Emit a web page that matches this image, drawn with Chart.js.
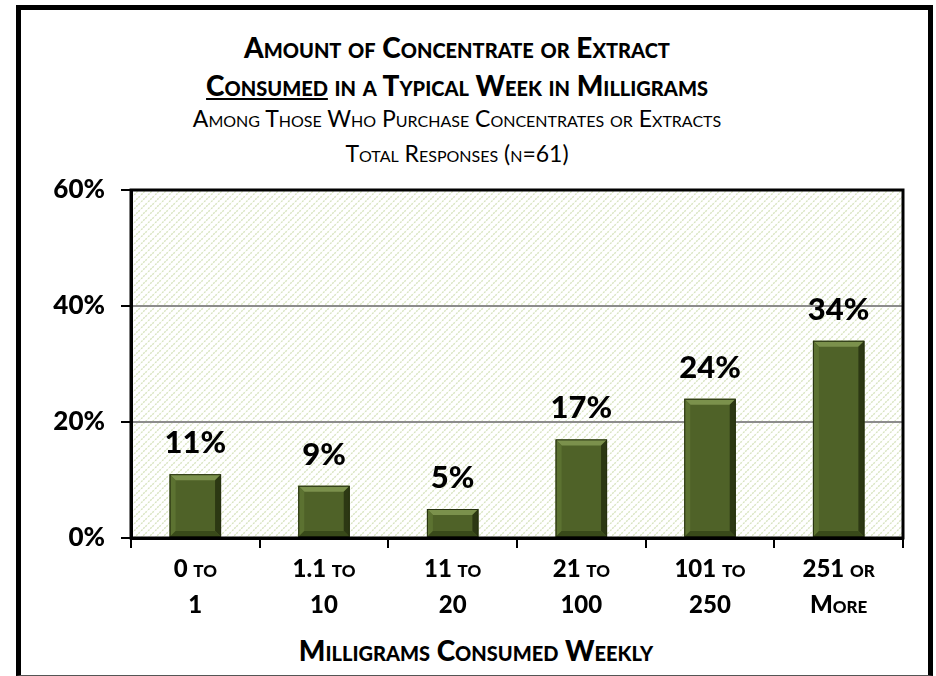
<!DOCTYPE html>
<html>
<head>
<meta charset="utf-8">
<script src="https://cdn.jsdelivr.net/npm/chart.js@4"></script>
<style>
  body { margin: 0; background: #fff; }
  #wrap { position: relative; width: 936px; height: 676px; overflow: hidden; font-family: Lato, "Open Sans", sans-serif; }
  #frame { position: absolute; left: 16px; top: 5px; width: 907px; height: 665px; border: 5px solid #000; border-bottom: 1px solid #555; }
  .t { position: absolute; left: 0; width: 914px; text-align: center; font-variant: small-caps; color: #000; white-space: nowrap; line-height: 34px; }
  .t1 { font-weight: 900; font-size: 28px; }
  .t2 { font-size: 23px; }
  canvas { position: absolute; left: 0; top: 0; }
</style>
</head>
<body>
<div id="wrap">
  <div id="frame"></div>
  <div class="t t1" style="top:30px">Amount of Concentrate or Extract</div>
  <div class="t t1" style="top:68px"><u>Consumed</u> in a Typical Week in Milligrams</div>
  <div class="t t2" style="top:101px">Among Those Who Purchase Concentrates or Extracts</div>
  <div class="t t2" style="top:136px">Total Responses (n=61)</div>
  <div class="t t1" style="top:633px; width:952px">Milligrams Consumed Weekly</div>
  <canvas id="amount-chart" width="936" height="676"></canvas>
</div>
<script>
// ------------- data --------------------------- //

var categories = [["0 to", "1"], ["1.1 to", "10"], ["11 to", "20"], ["21 to", "100"], ["101 to", "250"], ["251 or", "More"]]

var percentValues = [11, 9, 5, 17, 24, 34]

var yTicks = [0, 20, 40, 60]

var fontFamily = "Lato, 'Open Sans', sans-serif"

// hatched plot background
function makeHatch() {
    var tile = document.createElement("canvas")
    tile.width = 7
    tile.height = 7
    var c = tile.getContext("2d")
    c.fillStyle = "#ffffff"
    c.fillRect(0, 0, 7, 7)
    c.strokeStyle = "#d8e4c0"
    c.lineWidth = 1.4
    c.setLineDash([2, 1])
    c.beginPath()
    c.moveTo(-1, 8); c.lineTo(8, -1)
    c.moveTo(-4, 4); c.lineTo(4, -4)
    c.moveTo(3, 11); c.lineTo(11, 3)
    c.stroke()
    return tile
}

var plotDecor = {
    id: "plotDecor",
    beforeDraw: function (chart) {
        var a = chart.chartArea, ctx = chart.ctx
        ctx.save()
        ctx.fillStyle = ctx.createPattern(makeHatch(), "repeat")
        ctx.fillRect(a.left, a.top, a.right - a.left, a.bottom - a.top)
        ctx.restore()
    },
    afterDatasetsDraw: function (chart) {
        var ctx = chart.ctx
        var meta = chart.getDatasetMeta(0)
        meta.data.forEach(function (bar, i) {
            var l = bar.x - bar.width / 2, r = bar.x + bar.width / 2
            var t = bar.y, b = bar.base, s = 6
            ctx.save()
            // bevel edges
            ctx.fillStyle = "#7b914c"
            ctx.beginPath(); ctx.moveTo(l, t); ctx.lineTo(r, t); ctx.lineTo(r - s, t + s); ctx.lineTo(l + s, t + s); ctx.fill()
            ctx.fillStyle = "#5c7231"
            ctx.beginPath(); ctx.moveTo(l, t); ctx.lineTo(l + s, t + s); ctx.lineTo(l + s, b - s); ctx.lineTo(l, b); ctx.fill()
            ctx.fillStyle = "#2c3813"
            ctx.beginPath(); ctx.moveTo(r, t); ctx.lineTo(r, b); ctx.lineTo(r - s, b - s); ctx.lineTo(r - s, t + s); ctx.fill()
            ctx.fillStyle = "#394a1a"
            ctx.beginPath(); ctx.moveTo(l, b); ctx.lineTo(l + s, b - s); ctx.lineTo(r - s, b - s); ctx.lineTo(r, b); ctx.fill()
            ctx.strokeStyle = "#263010"
            ctx.lineWidth = 1
            ctx.strokeRect(l + 0.5, t + 0.5, r - l - 1, b - t - 1)
            // value label
            ctx.fillStyle = "#000"
            ctx.font = "900 31px " + fontFamily
            ctx.textAlign = "center"
            ctx.textBaseline = "alphabetic"
            ctx.fillText(percentValues[i] + "%", bar.x, t - 21)
            ctx.restore()
        })
    },
    afterDraw: function (chart) {
        var a = chart.chartArea, ctx = chart.ctx
        ctx.save()
        ctx.strokeStyle = "#000"
        ctx.lineWidth = 3
        ctx.strokeRect(a.left, a.top, a.right - a.left, a.bottom - a.top)
        ctx.restore()
    }
}

var amountChart = new Chart("amount-chart", {
    type: "bar",
    data: {
        labels: categories,
        datasets: [{
            data: percentValues,
            backgroundColor: "#4f6228",
            barPercentage: 0.4,
            categoryPercentage: 1
        }]
    },
    plugins: [plotDecor],
    options: {
        responsive: false,
        animation: false,
        layout: { padding: { left: 0, right: 33, top: 190, bottom: 0 } },
        plugins: {
            legend: { display: false },
            title: { display: false },
            tooltip: { enabled: false }
        },
        scales: {
            y: {
                min: 0,
                max: 60,
                afterBuildTicks: function (scale) {
                    scale.ticks = yTicks.map(function (v) { return { value: v } })
                },
                afterFit: function (scale) { scale.width = 131 },
                ticks: {
                    color: "#000",
                    padding: 16,
                    font: { family: fontFamily, size: 26, weight: "900" },
                    callback: function (v) { return v + "%" }
                },
                grid: { color: "#8c8c8c", lineWidth: 2, tickLength: 10, tickColor: "#000" },
                border: { color: "#000", width: 3 }
            },
            x: {
                afterFit: function (scale) { scale.height = 138 },
                ticks: {
                    color: "#000",
                    padding: 3,
                    font: { family: fontFamily, size: 24, weight: "small-caps 900", lineHeight: 1.5 }
                },
                grid: { drawOnChartArea: false, offset: true, lineWidth: 2, tickLength: 10, tickColor: "#000" },
                border: { color: "#000", width: 3 }
            }
        }
    }
});
</script>
</body>
</html>
